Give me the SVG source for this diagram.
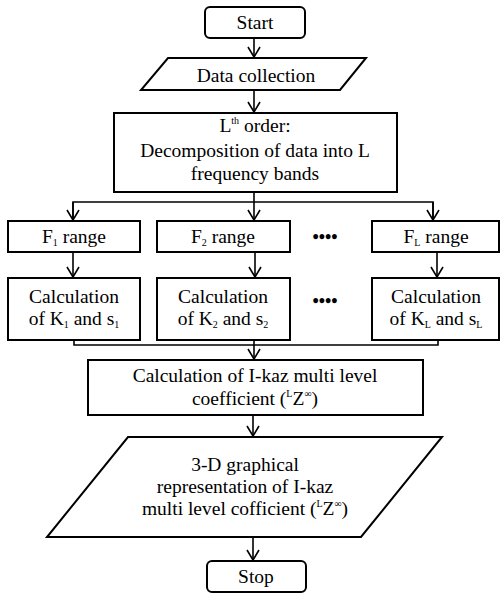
<svg xmlns="http://www.w3.org/2000/svg" width="501" height="596" viewBox="0 0 501 596">
<style>
.b{fill:#fff;stroke:#000;stroke-width:2}
.c{fill:none;stroke:#000;stroke-width:1.6}
text{font-family:"Liberation Serif","Times New Roman",serif;font-size:19.5px;fill:#000;text-anchor:middle}
.s{font-size:10px}
.dots{font-size:18px;font-weight:bold}
</style>
<defs>
<marker id="a" markerWidth="12" markerHeight="14" refX="11" refY="7" orient="auto" markerUnits="userSpaceOnUse" viewBox="0 0 12 14">
<polyline points="1,1 11,7 1,13" fill="none" stroke="#000" stroke-width="1.6"/>
</marker>
</defs>
<g id="connectors">
<line class="c" x1="254" y1="38" x2="254" y2="57" marker-end="url(#a)"/>
<line class="c" x1="254" y1="90" x2="254" y2="112" marker-end="url(#a)"/>
<line class="c" x1="254" y1="192" x2="254" y2="220" marker-end="url(#a)"/>
<polyline class="c" points="73,220 73,202 433,202 433,220"/>
<line class="c" x1="73" y1="202" x2="73" y2="220" marker-end="url(#a)"/>
<line class="c" x1="433" y1="202" x2="433" y2="220" marker-end="url(#a)"/>
<line class="c" x1="73" y1="252" x2="73" y2="277" marker-end="url(#a)"/>
<line class="c" x1="255" y1="252" x2="255" y2="277" marker-end="url(#a)"/>
<line class="c" x1="437" y1="252" x2="437" y2="277" marker-end="url(#a)"/>
<polyline class="c" points="74,340 74,345 438,345 438,340"/>
<line class="c" x1="254" y1="340" x2="254" y2="359" marker-end="url(#a)"/>
<line class="c" x1="253" y1="415" x2="253" y2="436" marker-end="url(#a)"/>
<line class="c" x1="253" y1="537" x2="253" y2="560" marker-end="url(#a)"/>
</g>
<g id="start">
<rect class="b" x="205" y="7" width="100" height="31" rx="5"/>
<text x="255" y="29">Start</text>
</g>
<g id="data">
<polygon class="b" points="168,58 366,58 340,90 141,90"/>
<text x="256" y="82">Data collection</text>
</g>
<g id="decomp">
<rect class="b" x="114" y="113" width="283" height="79"/>
<text x="255" y="132">L<tspan class="s" dy="-8">th</tspan><tspan dy="8"> order:</tspan></text>
<text x="255" y="157">Decomposition of data into L</text>
<text x="255" y="180">frequency bands</text>
</g>
<g id="f1">
<rect class="b" x="8" y="221" width="132" height="31"/>
<text x="74" y="243">F<tspan class="s" dy="3">1</tspan><tspan dy="-3"> range</tspan></text>
</g>
<g id="f2">
<rect class="b" x="157" y="221" width="133" height="31"/>
<text x="223" y="243">F<tspan class="s" dy="3">2</tspan><tspan dy="-3"> range</tspan></text>
</g>
<g id="dots1">
<text class="dots" x="325" y="243">••••</text>
</g>
<g id="fl">
<rect class="b" x="372" y="221" width="127" height="31"/>
<text x="436" y="243">F<tspan class="s" dy="3">L</tspan><tspan dy="-3"> range</tspan></text>
</g>
<g id="k1">
<rect class="b" x="8" y="278" width="132" height="62"/>
<text x="74" y="303">Calculation</text>
<text x="74" y="325">of K<tspan class="s" dy="3">1</tspan><tspan dy="-3"> and s</tspan><tspan class="s" dy="3">1</tspan></text>
</g>
<g id="k2">
<rect class="b" x="157" y="278" width="133" height="62"/>
<text x="223" y="303">Calculation</text>
<text x="223" y="325">of K<tspan class="s" dy="3">2</tspan><tspan dy="-3"> and s</tspan><tspan class="s" dy="3">2</tspan></text>
</g>
<g id="dots2">
<text class="dots" x="325" y="307">••••</text>
</g>
<g id="kl">
<rect class="b" x="372" y="278" width="127" height="62"/>
<text x="436" y="303">Calculation</text>
<text x="436" y="325">of K<tspan class="s" dy="3">L</tspan><tspan dy="-3"> and s</tspan><tspan class="s" dy="3">L</tspan></text>
</g>
<g id="ikaz">
<rect class="b" x="88" y="360" width="335" height="55"/>
<text x="255" y="382">Calculation of I-kaz multi level</text>
<text x="255" y="405">coefficient (<tspan class="s" dy="-8">L</tspan><tspan dy="8">Z</tspan><tspan class="s" dy="-8">∞</tspan><tspan dy="8">)</tspan></text>
</g>
<g id="graph3d">
<polygon class="b" points="128,437 442,437 361,537 47,537"/>
<text x="245" y="471">3-D graphical</text>
<text x="245" y="493">representation of I-kaz</text>
<text x="245" y="515">multi level cofficient (<tspan class="s" dy="-8">L</tspan><tspan dy="8">Z</tspan><tspan class="s" dy="-8">∞</tspan><tspan dy="8">)</tspan></text>
</g>
<g id="stop">
<rect class="b" x="207" y="561" width="99" height="31" rx="5"/>
<text x="256" y="583">Stop</text>
</g>
</svg>
